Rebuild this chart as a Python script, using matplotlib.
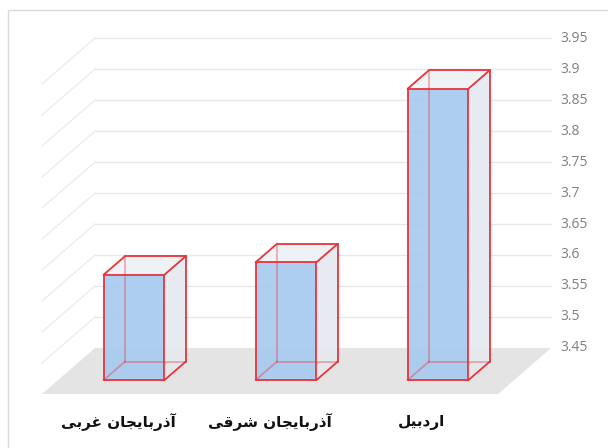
import matplotlib
matplotlib.use('Agg')
import matplotlib.pyplot as plt
from matplotlib.patches import Polygon

# data
provinces = ['آذربایجان غربی', 'آذربایجان شرقی', 'اردبیل']
scores = [3.62, 3.64, 3.92]
ticks = [3.45, 3.5, 3.55, 3.6, 3.65, 3.7, 3.75, 3.8, 3.85, 3.9, 3.95]
ymin = 3.45

# simple persian shaping (matplotlib has no bidi / joining)
forms = {
    'آ': ('\ufe81', '\ufe82', None, None),
    'ا': ('\ufe8d', '\ufe8e', None, None),
    'د': ('\ufea9', '\ufeaa', None, None),
    'ذ': ('\ufeab', '\ufeac', None, None),
    'ر': ('\ufead', '\ufeae', None, None),
    'ب': ('\ufe8f', '\ufe90', '\ufe91', '\ufe92'),
    'ی': ('\ufeef', '\ufef0', '\ufef3', '\ufef4'),
    'ج': ('\ufe9d', '\ufe9e', '\ufe9f', '\ufea0'),
    'ن': ('\ufee5', '\ufee6', '\ufee7', '\ufee8'),
    'غ': ('\ufecd', '\ufece', '\ufecf', '\ufed0'),
    'ش': ('\ufeb5', '\ufeb6', '\ufeb7', '\ufeb8'),
    'ق': ('\ufed5', '\ufed6', '\ufed7', '\ufed8'),
    'ل': ('\ufedd', '\ufede', '\ufedf', '\ufee0'),
}

def shape(s):
    out = []
    for i, c in enumerate(s):
        if c not in forms:
            out.append(c)
            continue
        p = s[i-1] if i > 0 else ' '
        n = s[i+1] if i < len(s)-1 else ' '
        jp = p in forms and forms[p][2] is not None
        jn = n in forms and forms[c][2] is not None
        f = forms[c]
        if jp and jn:
            out.append(f[3])
        elif jp:
            out.append(f[1])
        elif jn:
            out.append(f[2])
        else:
            out.append(f[0])
    return ''.join(out[::-1])

# oblique projection: depth z in [0,1] (0 = front of floor, 1 = back wall)
kx = 0.349
ky = 0.0742
def proj(x, v, z):
    return (x + kx*z, v + ky*z)

fig = plt.figure(figsize=(6.08, 4.48), dpi=100)
ax = fig.add_axes([0, 0, 1, 1])
ax.set_xlim(-0.2763, 3.7237)
ax.set_ylim(3.3629, 4.0855)
ax.axis('off')

# chart border
ax.plot([-0.2237, -0.2237, 3.80], [3.30, 4.0694, 4.0694], color='#d9d9d9', lw=1, clip_on=False)

n = len(provinces)
grid = '#e8e8e8'

# floor
ax.add_patch(Polygon([proj(0, ymin, 0), proj(n, ymin, 0), proj(n, ymin, 1), proj(0, ymin, 1)],
                     closed=True, facecolor='#e4e4e4', edgecolor='none', zorder=1))

# gridlines on back wall and left wall
for t in ticks:
    x0, y0 = proj(0, t, 1)
    x1, y1 = proj(n, t, 1)
    if t > ymin:
        ax.plot([x0, x1], [y0, y1], color=grid, lw=1, zorder=0.5)
        a = proj(0, t, 0)
        ax.plot([a[0], x0], [a[1], y0], color='#ededed', lw=1, zorder=0.5)
    ax.text(x1 + 0.06, y1, str(t), ha='left', va='center', fontsize=10,
            color='#808080', family='Open Sans')

# bars as transparent boxes
red = '#e8333a'
w = 0.4
z0, z1 = 0.3, 0.7
for i, v in enumerate(scores):
    l = i + 0.5 - w/2
    r = i + 0.5 + w/2
    fbl = proj(l, ymin, z0); fbr = proj(r, ymin, z0)
    ftl = proj(l, v, z0); ftr = proj(r, v, z0)
    bbl = proj(l, ymin, z1); bbr = proj(r, ymin, z1)
    btl = proj(l, v, z1); btr = proj(r, v, z1)
    # back face
    ax.add_patch(Polygon([bbl, bbr, btr, btl], facecolor='#eef1f5', edgecolor='none', alpha=0.6, zorder=2))
    # right side and top
    ax.add_patch(Polygon([fbr, bbr, btr, ftr], facecolor='#e4e9ef', edgecolor='none', alpha=0.8, zorder=3))
    ax.add_patch(Polygon([ftl, ftr, btr, btl], facecolor='#eef1f5', edgecolor='none', alpha=0.8, zorder=3))
    # front face
    ax.add_patch(Polygon([fbl, fbr, ftr, ftl], facecolor='#a6caef', edgecolor='none', alpha=0.9, zorder=4))
    # hidden edges seen through the box
    for a, b in [(bbl, btl), (bbl, bbr), (fbl, bbl)]:
        ax.plot([a[0], b[0]], [a[1], b[1]], color=red, lw=1.1, alpha=0.45, zorder=4.5)
    edges = [(fbl, fbr), (fbr, ftr), (ftr, ftl), (ftl, fbl),
             (ftl, btl), (btl, btr), (ftr, btr), (btr, bbr), (fbr, bbr)]
    for a, b in edges:
        ax.plot([a[0], b[0]], [a[1], b[1]], color=red, lw=1.3, zorder=5, solid_capstyle='round')
    ax.text(i + 0.5, ymin - 0.046, shape(provinces[i]), ha='center', va='center',
            fontsize=11, fontweight='bold', color='#111111', family=['DejaVu Sans'])

fig.savefig('out.png', dpi=100)
